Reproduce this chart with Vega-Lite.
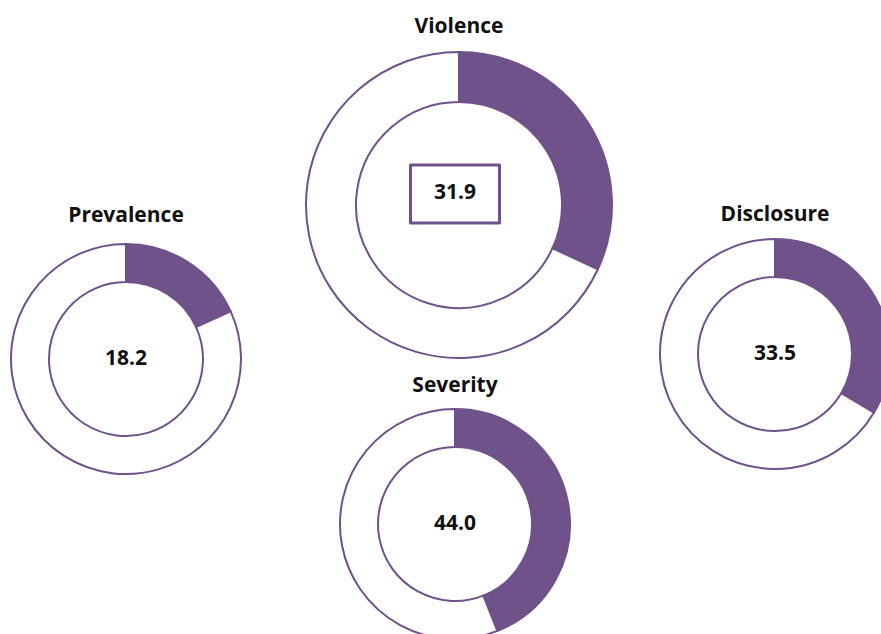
{
  "$schema": "https://vega.github.io/schema/vega-lite/v6.json",
  "background": "white",
  "padding": {"left": 7, "top": 16, "right": 0, "bottom": 0},
  "config": {
    "view": {"stroke": null, "fill": "white"},
    "font": "Open Sans",
    "title": {"font": "Open Sans", "fontSize": 21, "fontWeight": "bold", "color": "#111111", "baseline": "alphabetic", "frame": "group"}
  },
  "datasets": {
    "scores": [
      {"metric": "Prevalence", "part": "score", "share": 18.2},
      {"metric": "Prevalence", "part": "rest", "share": 81.8},
      {"metric": "Violence", "part": "score", "share": 31.9},
      {"metric": "Violence", "part": "rest", "share": 68.1},
      {"metric": "Disclosure", "part": "score", "share": 33.5},
      {"metric": "Disclosure", "part": "rest", "share": 66.5},
      {"metric": "Severity", "part": "score", "share": 44.0},
      {"metric": "Severity", "part": "rest", "share": 56.0}
    ]
  },
  "spacing": 57,
  "hconcat": [
    {
      "spacing": 0,
      "vconcat": [
        {"width": 232, "height": 154, "data": {"name": "scores"}, "mark": {"type": "point", "opacity": 0}, "encoding": {}},
        {
          "width": 232, "height": 232,
          "title": {"text": "Prevalence", "offset": 14},
          "data": {"name": "scores"},
          "transform": [{"filter": "datum.metric === 'Prevalence'"}],
          "layer": [
            {
              "mark": {"type": "arc", "outerRadius": 115, "innerRadius": 77, "stroke": "#70528a", "strokeWidth": 2},
              "encoding": {
                "theta": {"field": "share", "type": "quantitative", "stack": true},
                "order": {"field": "part", "sort": "descending"},
                "color": {"field": "part", "type": "nominal", "scale": {"domain": ["score", "rest"], "range": ["#70528a", "#ffffff"]}, "legend": null}
              }
            },
            {
              "transform": [{"filter": "datum.part === 'score'"}],
              "mark": {"type": "text", "font": "Open Sans", "fontSize": 21, "fontWeight": "bold", "color": "#111111", "baseline": "middle"},
              "encoding": {"text": {"field": "share", "type": "quantitative", "format": ".1f"}}
            }
          ]
        }
      ]
    },
    {
      "spacing": 40,
      "hconcat": [
        {
          "spacing": 13,
          "vconcat": [
            {
              "width": 308, "height": 308,
              "title": {"text": "Violence", "offset": 11},
              "data": {"name": "scores"},
              "transform": [{"filter": "datum.metric === 'Violence'"}],
              "layer": [
                {
                  "mark": {"type": "arc", "outerRadius": 153, "innerRadius": 103, "stroke": "#70528a", "strokeWidth": 2},
                  "encoding": {
                    "theta": {"field": "share", "type": "quantitative", "stack": true},
                    "order": {"field": "part", "sort": "descending"},
                    "color": {"field": "part", "type": "nominal", "scale": {"domain": ["score", "rest"], "range": ["#70528a", "#ffffff"]}, "legend": null}
                  }
                },
                {
                  "transform": [{"filter": "datum.part === 'score'"}],
                  "mark": {"type": "point", "shape": "M-1,-0.65H1V0.65H-1Z", "size": 7921, "filled": false, "opacity": 1, "stroke": "#70528a", "strokeWidth": 3, "strokeJoin": "round", "xOffset": -4, "yOffset": -11},
                  "encoding": {}
                },
                {
                  "transform": [{"filter": "datum.part === 'score'"}],
                  "mark": {"type": "text", "font": "Open Sans", "fontSize": 21, "fontWeight": "bold", "color": "#111111", "baseline": "middle", "xOffset": -4, "yOffset": -12},
                  "encoding": {"text": {"field": "share", "type": "quantitative", "format": ".1f"}}
                }
              ]
            },
            {
              "width": 300, "height": 232,
              "title": {"text": "Severity", "offset": 9},
              "data": {"name": "scores"},
              "transform": [{"filter": "datum.metric === 'Severity'"}],
              "layer": [
                {
                  "mark": {"type": "arc", "outerRadius": 115, "innerRadius": 77, "stroke": "#70528a", "strokeWidth": 2},
                  "encoding": {
                    "theta": {"field": "share", "type": "quantitative", "stack": true},
                    "order": {"field": "part", "sort": "descending"},
                    "color": {"field": "part", "type": "nominal", "scale": {"domain": ["score", "rest"], "range": ["#70528a", "#ffffff"]}, "legend": null}
                  }
                },
                {
                  "transform": [{"filter": "datum.part === 'score'"}],
                  "mark": {"type": "text", "font": "Open Sans", "fontSize": 21, "fontWeight": "bold", "color": "#111111", "baseline": "middle"},
                  "encoding": {"text": {"field": "share", "type": "quantitative", "format": ".1f"}}
                }
              ]
            }
          ]
        },
        {
          "spacing": 0,
          "vconcat": [
            {"width": 232, "height": 153, "data": {"name": "scores"}, "mark": {"type": "point", "opacity": 0}, "encoding": {}},
            {
              "width": 232, "height": 232,
              "title": {"text": "Disclosure", "offset": 10},
              "data": {"name": "scores"},
              "transform": [{"filter": "datum.metric === 'Disclosure'"}],
              "layer": [
                {
                  "mark": {"type": "arc", "outerRadius": 115, "innerRadius": 77, "stroke": "#70528a", "strokeWidth": 2},
                  "encoding": {
                    "theta": {"field": "share", "type": "quantitative", "stack": true},
                    "order": {"field": "part", "sort": "descending"},
                    "color": {"field": "part", "type": "nominal", "scale": {"domain": ["score", "rest"], "range": ["#70528a", "#ffffff"]}, "legend": null}
                  }
                },
                {
                  "transform": [{"filter": "datum.part === 'score'"}],
                  "mark": {"type": "text", "font": "Open Sans", "fontSize": 21, "fontWeight": "bold", "color": "#111111", "baseline": "middle"},
                  "encoding": {"text": {"field": "share", "type": "quantitative", "format": ".1f"}}
                }
              ]
            }
          ]
        }
      ]
    }
  ]
}
